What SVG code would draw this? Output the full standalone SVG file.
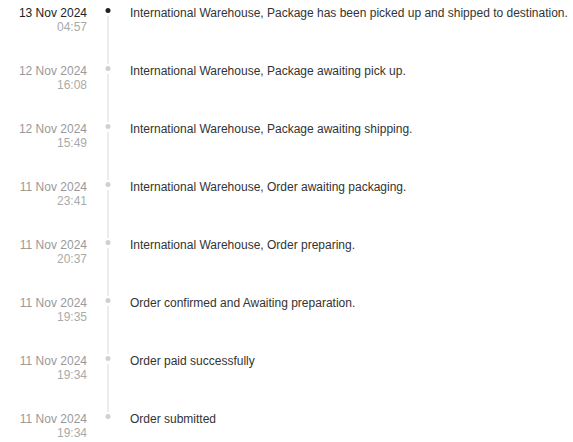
<svg xmlns="http://www.w3.org/2000/svg" width="573" height="442" viewBox="0 0 573 442">
<style>
text{font-family:"Liberation Sans",Arial,sans-serif;font-size:12px}
.d{text-anchor:end;fill:#999}
.d0{text-anchor:end;fill:#222}
.t{text-anchor:end;fill:#aaa}
.m{fill:#333}
.ln{stroke:#e0e0e0;stroke-width:1.2}
.dot{fill:#d0d0d0}
.dot0{fill:#222}
</style>
<rect width="573" height="442" fill="#fff"/>
<g id="connectors">
<line class="ln" x1="108" y1="16" x2="108" y2="64"/>
<line class="ln" x1="108" y1="74" x2="108" y2="122"/>
<line class="ln" x1="108" y1="132" x2="108" y2="180"/>
<line class="ln" x1="108" y1="190" x2="108" y2="238"/>
<line class="ln" x1="108" y1="248" x2="108" y2="296"/>
<line class="ln" x1="108" y1="306" x2="108" y2="354"/>
<line class="ln" x1="108" y1="364" x2="108" y2="412"/>
</g>
<g id="n1"><text class="d0" x="87" y="17">13 Nov 2024</text><text class="t" x="87" y="31">04:57</text><circle class="dot0" cx="108" cy="10.5" r="2.5"/><text class="m" x="130" y="17">International Warehouse, Package has been picked up and shipped to destination.</text></g>
<g id="n2"><text class="d" x="87" y="75">12 Nov 2024</text><text class="t" x="87" y="89">16:08</text><circle class="dot" cx="108" cy="68.5" r="2.5"/><text class="m" x="130" y="75">International Warehouse, Package awaiting pick up.</text></g>
<g id="n3"><text class="d" x="87" y="133">12 Nov 2024</text><text class="t" x="87" y="147">15:49</text><circle class="dot" cx="108" cy="126.5" r="2.5"/><text class="m" x="130" y="133">International Warehouse, Package awaiting shipping.</text></g>
<g id="n4"><text class="d" x="87" y="191">11 Nov 2024</text><text class="t" x="87" y="205">23:41</text><circle class="dot" cx="108" cy="184.5" r="2.5"/><text class="m" x="130" y="191">International Warehouse, Order awaiting packaging.</text></g>
<g id="n5"><text class="d" x="87" y="249">11 Nov 2024</text><text class="t" x="87" y="263">20:37</text><circle class="dot" cx="108" cy="242.5" r="2.5"/><text class="m" x="130" y="249">International Warehouse, Order preparing.</text></g>
<g id="n6"><text class="d" x="87" y="307">11 Nov 2024</text><text class="t" x="87" y="321">19:35</text><circle class="dot" cx="108" cy="300.5" r="2.5"/><text class="m" x="130" y="307">Order confirmed and Awaiting preparation.</text></g>
<g id="n7"><text class="d" x="87" y="365">11 Nov 2024</text><text class="t" x="87" y="379">19:34</text><circle class="dot" cx="108" cy="358.5" r="2.5"/><text class="m" x="130" y="365">Order paid successfully</text></g>
<g id="n8"><text class="d" x="87" y="423">11 Nov 2024</text><text class="t" x="87" y="437">19:34</text><circle class="dot" cx="108" cy="416.5" r="2.5"/><text class="m" x="130" y="423">Order submitted</text></g>
</svg>
